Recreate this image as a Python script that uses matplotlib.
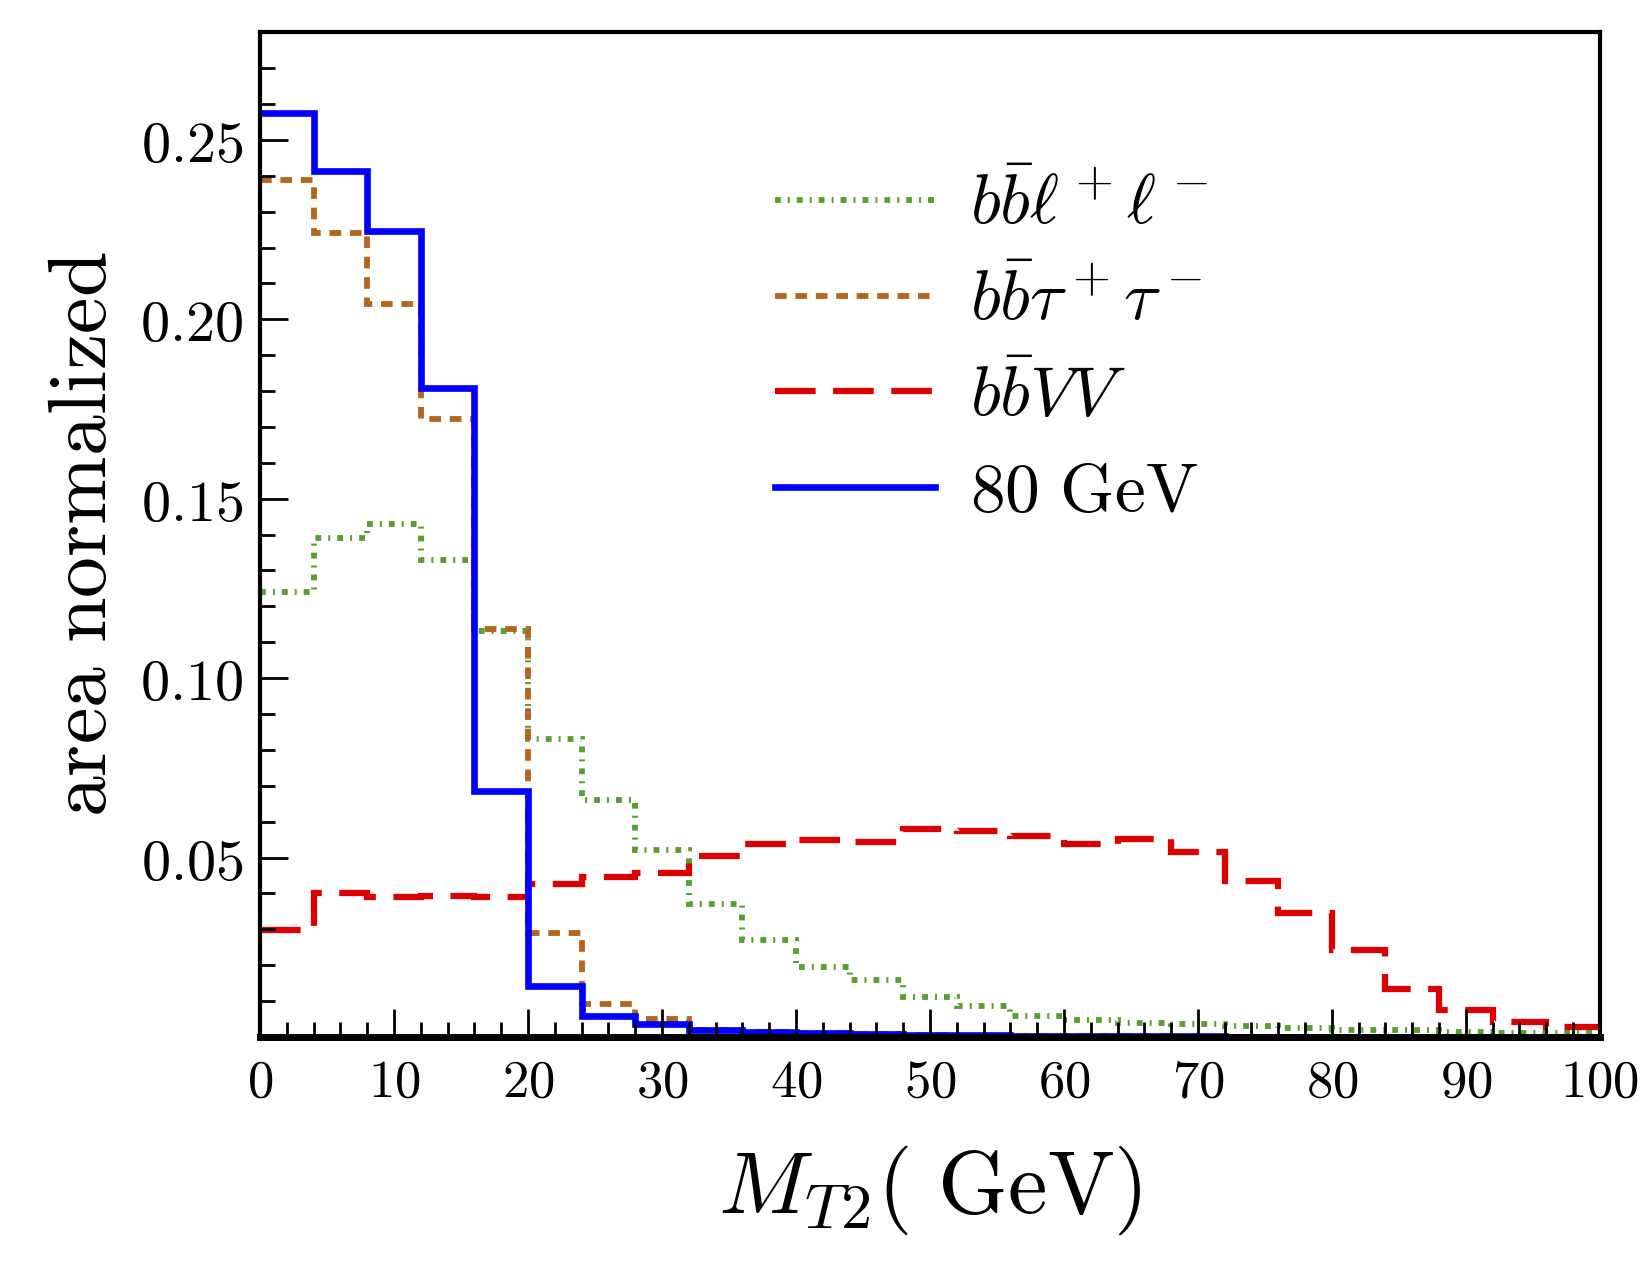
import numpy as np
import matplotlib
matplotlib.use("Agg")
import matplotlib.pyplot as plt
from matplotlib.ticker import MultipleLocator

plt.rcParams['mathtext.fontset'] = 'cm'
plt.rcParams['font.family'] = 'serif'

# bin edges of M_T2 (GeV), 4 GeV bins
bin_edges = np.arange(0, 101, 4)

# area normalized histograms
bbll = [0.124, 0.139, 0.143, 0.133, 0.113, 0.083, 0.066, 0.052, 0.037, 0.027,
        0.0195, 0.016, 0.011, 0.0086, 0.0058, 0.0048, 0.004, 0.0035, 0.003, 0.0025,
        0.002, 0.0018, 0.0015, 0.0012, 0.001]
bbtautau = [0.2388, 0.224, 0.2044, 0.1722, 0.1136, 0.029, 0.0092, 0.005, 0.002, 0.0015,
            0.001, 0.0008, 0.0005, 0.0004, 0.0003, 0.0002, 0.0002, 0.0001, 0.0001, 0.0001,
            0.0001, 0.0, 0.0, 0.0, 0.0]
bbVV = [0.0298, 0.0402, 0.039, 0.0392, 0.0389, 0.0427, 0.0445, 0.0458, 0.0504, 0.0537,
        0.0549, 0.0544, 0.058, 0.0574, 0.0559, 0.0538, 0.0553, 0.0515, 0.0435, 0.0346,
        0.0243, 0.0133, 0.0074, 0.0041, 0.0027]
sig80 = [0.2574, 0.2414, 0.2246, 0.1808, 0.0686, 0.0142, 0.0059, 0.0036, 0.002, 0.0015,
         0.001, 0.0008, 0.0006, 0.0005, 0.0004, 0.0003, 0.0002, 0.0002, 0.0001, 0.0001,
         0.0001, 0.0001, 0.0, 0.0, 0.0]

xticks = [0, 10, 20, 30, 40, 50, 60, 70, 80, 90, 100]
yticks = [0.05, 0.10, 0.15, 0.20, 0.25]

fig = plt.figure(figsize=(16.5, 12.75), dpi=100)
ax = fig.add_axes([0.1576, 0.1867, 0.812, 0.788])

# baseline=None -> no vertical edges at x=0 / x=100
ax.stairs(bbll, bin_edges, baseline=None, color='#5a9e32', lw=4.2,
          linestyle=(0, (1.0, 1.2, 0.35, 1.2)), label=r'$b\bar{b}\ell^+\ell^-$')
ax.stairs(bbtautau, bin_edges, baseline=None, color='#b5651d', lw=4.2,
          linestyle=(0, (2.0, 1.5)), label=r'$b\bar{b}\tau^+\tau^-$')
ax.stairs(bbVV, bin_edges, baseline=None, color='#dd0000', lw=4.5,
          linestyle=(0, (6.5, 2.8)), label=r'$b\bar{b}VV$')
ax.stairs(sig80, bin_edges, baseline=None, color='#0000ff', lw=4.8,
          label=r'$80\ \mathrm{GeV}$')

ax.set_xlim(0, 100)
ax.set_ylim(0, 0.28)

ax.set_xticks(xticks)
ax.set_xticklabels([f'${v}$' for v in xticks], fontsize=38)
ax.set_yticks(yticks)
ax.set_yticklabels([f'${v:.2f}$' for v in yticks], fontsize=42)
ax.xaxis.set_minor_locator(MultipleLocator(2))
ax.yaxis.set_minor_locator(MultipleLocator(0.01))
ax.tick_params(axis='both', which='major', direction='in', length=20, width=2,
               top=False, right=False)
ax.tick_params(axis='both', which='minor', direction='in', length=11, width=2,
               top=False, right=False)
ax.tick_params(axis='x', pad=14)
ax.tick_params(axis='y', pad=12)

for s in ['left', 'right', 'top']:
    ax.spines[s].set_linewidth(3)
ax.spines['bottom'].set_linewidth(5)

ax.set_ylabel(r'$\mathrm{area\ normalized}$', fontsize=59, labelpad=12)
ax.set_xlabel(r'$M_{T2}(\ \mathrm{GeV})$', fontsize=64, labelpad=26)

ax.legend(loc='upper left', bbox_to_anchor=(0.338, 0.923), frameon=False, fontsize=50,
          handlelength=2.3, handletextpad=0.5, labelspacing=0.42)

fig.savefig('out.png', dpi=100)
